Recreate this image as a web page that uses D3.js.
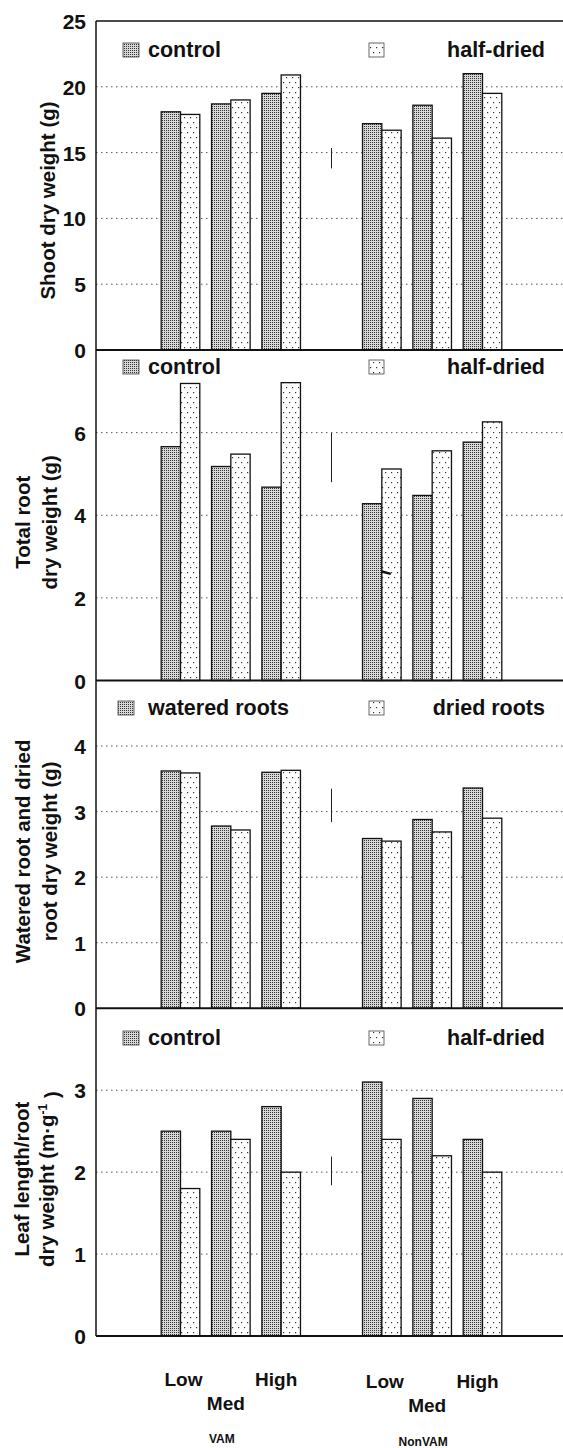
<!DOCTYPE html>
<html>
<head>
<meta charset="utf-8">
<script src="https://cdn.jsdelivr.net/npm/d3@7"></script>
<style>
  body { margin: 0; background: #fff; }
  svg { display: block; }
  text { font-family: "Liberation Sans", Arial, Helvetica, sans-serif; font-weight: bold; fill: #111; }
</style>
</head>
<body>
<svg id="chart" width="563" height="1448"></svg>
<script>
// категории по оси X (средний слот — для планки НСР)
const slots = ["VAM Low", "VAM Med", "VAM High", "LSD", "NonVAM Low", "NonVAM Med", "NonVAM High"];
const barSlots = ["VAM Low", "VAM Med", "VAM High", "NonVAM Low", "NonVAM Med", "NonVAM High"];
const levels = ["Low", "Med", "High"];
const groups = ["VAM", "NonVAM"];

// панель 1 — масса побега
const shootControl   = [18.1, 18.7, 19.5, 17.2, 18.6, 21.0];
const shootHalfDried = [17.9, 19.0, 20.9, 16.7, 16.1, 19.5];
const shootTicks = [0, 5, 10, 15, 20, 25];
const shootLsd = [13.8, 15.35];

// панель 2 — масса корней
const rootControl   = [5.66, 5.18, 4.68, 4.28, 4.48, 5.77];
const rootHalfDried = [7.19, 5.48, 7.21, 5.12, 5.56, 6.26];
const rootTicks = [0, 2, 4, 6];
const rootLsd = [4.8, 5.99];

// панель 3 — политые и сухие корни
const wateredRoots = [3.62, 2.78, 3.60, 2.59, 2.88, 3.36];
const driedRoots   = [3.59, 2.72, 3.63, 2.55, 2.69, 2.90];
const splitTicks = [0, 1, 2, 3, 4];
const splitLsd = [2.84, 3.35];

// панель 4 — длина листа / масса корня
const ratioControl   = [2.5, 2.5, 2.8, 3.1, 2.9, 2.4];
const ratioHalfDried = [1.8, 2.4, 2.0, 2.4, 2.2, 2.0];
const ratioTicks = [0, 1, 2, 3];
const ratioLsd = [1.84, 2.19];

// панели (данные + подписи)
const panels = [
  { max: 25, ticks: shootTicks, series: [shootControl, shootHalfDried], lsd: shootLsd,
    legend: ["control", "half-dried"], title: ["Shoot dry weight (g)"] },
  { max: 8, ticks: rootTicks, series: [rootControl, rootHalfDried], lsd: rootLsd,
    legend: ["control", "half-dried"], title: ["Total root", "dry weight (g)"] },
  { max: 5, ticks: splitTicks, series: [wateredRoots, driedRoots], lsd: splitLsd,
    legend: ["watered roots", "dried roots"], title: ["Watered root and dried", "root dry weight (g)"] },
  { max: 4, ticks: ratioTicks, series: [ratioControl, ratioHalfDried], lsd: ratioLsd,
    legend: ["control", "half-dried"], title: ["Leaf length/root", "dry weight (m·g"] }
];

// геометрия
const svg = d3.select("#chart");
const axisX = 96, rightX = 563;
const panelTop = [21, 350, 680.5, 1008.3, 1336];
const legendY = [36, 24, 34.5, 36.7];
const titleX = [[48], [23, 50], [23, 50], [22, 47]];

// узоры заливки
const defs = svg.append("defs");
let p1 = defs.append("pattern").attr("id", "dense").attr("patternUnits", "userSpaceOnUse")
  .attr("width", 2).attr("height", 2);
p1.append("rect").attr("width", 2).attr("height", 2).attr("fill", "#d8d8d8");
p1.append("rect").attr("width", 1).attr("height", 1).attr("fill", "#333");
let p2 = defs.append("pattern").attr("id", "sparse").attr("patternUnits", "userSpaceOnUse")
  .attr("width", 6).attr("height", 10);
p2.append("rect").attr("width", 6).attr("height", 10).attr("fill", "#fff");
p2.append("rect").attr("x", 1).attr("y", 2).attr("width", 1.2).attr("height", 1.2).attr("fill", "#333");
p2.append("rect").attr("x", 4).attr("y", 7).attr("width", 1.2).attr("height", 1.2).attr("fill", "#333");
const fills = ["url(#dense)", "url(#sparse)"];

// шкалы X
const scX = d3.scalePoint().domain(slots).range([180.5, 482.5]);
const scSub = d3.scaleBand().domain([0, 1]).range([-19.3, 19.3]);

panels.forEach((p, k) => {
  const top = panelTop[k], bottom = panelTop[k + 1];
  const scY = d3.scaleLinear().domain([0, p.max]).range([bottom, top]);
  const g = svg.append("g");

  // пунктирная сетка
  g.selectAll(".grid").data(p.ticks.filter(t => t > 0 && t < p.max)).enter()
    .append("line")
    .attr("x1", axisX).attr("x2", rightX)
    .attr("y1", d => scY(d)).attr("y2", d => scY(d))
    .attr("stroke", "#555").attr("stroke-width", 1).attr("stroke-dasharray", "1.5,3.5");

  // подписи оси Y
  const ax = g.append("g").attr("transform", `translate(${axisX},0)`)
    .call(d3.axisLeft(scY).tickValues(p.ticks).tickSize(0).tickPadding(10).tickFormat(d3.format("d")));
  ax.select(".domain").remove();
  ax.selectAll("text").attr("font-size", 21).attr("font-family", null).attr("fill", "#111")
    .attr("dy", "0.36em");

  // столбцы
  p.series.forEach((vals, s) => {
    g.selectAll(".bar" + s).data(vals).enter()
      .append("rect")
      .attr("x", (d, i) => scX(barSlots[i]) + scSub(s))
      .attr("width", scSub.bandwidth())
      .attr("y", d => scY(d))
      .attr("height", d => scY(0) - scY(d))
      .attr("fill", fills[s])
      .attr("stroke", "#111").attr("stroke-width", 1.3);
  });

  // планка НСР
  g.append("line")
    .attr("x1", scX("LSD")).attr("x2", scX("LSD"))
    .attr("y1", scY(p.lsd[0])).attr("y2", scY(p.lsd[1]))
    .attr("stroke", "#222").attr("stroke-width", 1);

  // нулевая линия
  g.append("line").attr("x1", axisX).attr("x2", rightX)
    .attr("y1", scY(0)).attr("y2", scY(0))
    .attr("stroke", "#111").attr("stroke-width", 2);

  // легенда
  const ly = top + legendY[k];
  const lx0 = k === 2 ? 118 : 123;
  g.append("rect").attr("x", lx0).attr("y", ly - 14).attr("width", 16).attr("height", 14)
    .attr("fill", fills[0]).attr("stroke", "#444").attr("stroke-width", 0.8);
  g.append("text").attr("x", 148).attr("y", ly).attr("font-size", 21.5).text(p.legend[0]);
  g.append("rect").attr("x", 369).attr("y", ly - 14).attr("width", 15).attr("height", 14)
    .attr("fill", fills[1]).attr("stroke", "#444").attr("stroke-width", 0.8);
  g.append("text").attr("x", 545).attr("y", ly).attr("text-anchor", "end")
    .attr("font-size", 21.5).text(p.legend[1]);

  // заголовок оси Y
  const cy = (top + bottom) / 2 + (k === 0 ? 15 : 7);
  p.title.forEach((line, j) => {
    const t = g.append("text")
      .attr("transform", `translate(${titleX[k][j]},${cy}) rotate(-90)`)
      .attr("text-anchor", "middle").attr("dy", "0.35em")
      .attr("font-size", 20.5).text(line);
    if (k === 3 && j === 1) {
      t.append("tspan").attr("font-size", 12).attr("dy", "-0.6em").text("-1");
      t.append("tspan").attr("dy", "0.6em").text(" )");
    }
  });
});

// отметка на второй панели (как в оригинале)
{
  const scY = d3.scaleLinear().domain([0, 8]).range([panelTop[2], panelTop[1]]);
  const cx = scX("NonVAM Low");
  svg.append("line").attr("x1", cx).attr("x2", cx + 9)
    .attr("y1", scY(2.64)).attr("y2", scY(2.58))
    .attr("stroke", "#111").attr("stroke-width", 2.5);
}

// ось Y и верхняя рамка
svg.append("line").attr("x1", axisX).attr("x2", axisX).attr("y1", panelTop[0]).attr("y2", panelTop[4])
  .attr("stroke", "#111").attr("stroke-width", 1.5);
svg.append("line").attr("x1", axisX).attr("x2", rightX).attr("y1", panelTop[0]).attr("y2", panelTop[0])
  .attr("stroke", "#111").attr("stroke-width", 1.5);

// подписи X
const levelDx = [3, -5, -5];
const levelY = [1386, 1410, 1386];
barSlots.forEach((s, i) => {
  const lv = i % 3;
  svg.append("text")
    .attr("x", scX(s) + levelDx[lv])
    .attr("y", levelY[lv] + (i >= 3 ? 2 : 0))
    .attr("text-anchor", "middle").attr("font-size", 19)
    .text(levels[lv]);
});
groups.forEach((gname, i) => {
  svg.append("text")
    .attr("x", scX(gname + " Med") - 9)
    .attr("y", i === 0 ? 1443 : 1446)
    .attr("text-anchor", "middle").attr("font-size", 12)
    .text(gname);
});
</script>
</body>
</html>
